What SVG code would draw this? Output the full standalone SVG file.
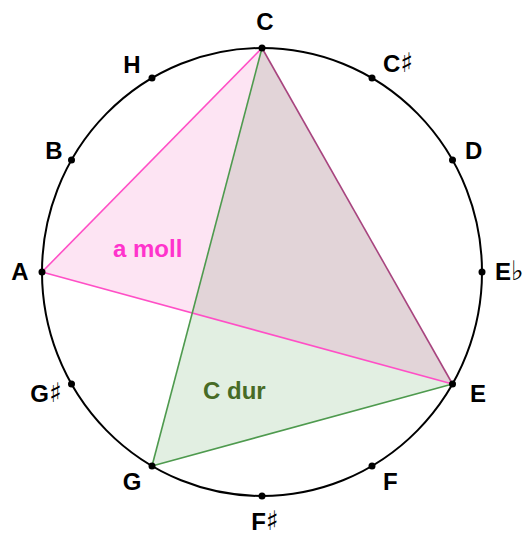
<svg xmlns="http://www.w3.org/2000/svg" width="530" height="535" viewBox="0 0 530 535">
<style>
.lbl{font-family:"Liberation Sans","DejaVu Sans",sans-serif;font-weight:bold;font-size:24px;fill:#000}
.acc{font-family:"DejaVu Sans",sans-serif;font-weight:bold;font-size:27px;fill:#000}
.dot{fill:#000}
.tri-label{font-family:"Liberation Sans","DejaVu Sans",sans-serif;font-weight:bold;font-size:24px}
</style>
<rect width="530" height="535" fill="#fff"/>
<g id="circle">
<ellipse cx="262" cy="272" rx="220" ry="224" fill="none" stroke="#000" stroke-width="2"/>
</g>
<g id="triangles">
<polygon id="a-moll" points="42,272 262,48 452.5,384" fill="#fde4f3"/>
<polygon id="c-dur" points="262,48 452.5,384 152,466" fill="#e2efe2"/>
<polygon id="overlap" points="262,48 192.3,313 452.5,384" fill="#e2d4d8"/>
</g>
<g id="connectors" fill="none" stroke-width="1.6">
<line x1="42" y1="272" x2="262" y2="48" stroke="#ff4fc6"/>
<line x1="42" y1="272" x2="452.5" y2="384" stroke="#ff4fc6"/>
<line x1="262" y1="48" x2="152" y2="466" stroke="#4e9a4e"/>
<line x1="152" y1="466" x2="452.5" y2="384" stroke="#4e9a4e"/>
<line x1="262" y1="48" x2="452.5" y2="384" stroke="#a8457f"/>
</g>
<g id="node-C"><circle class="dot" cx="262" cy="48" r="3.5"/><text class="lbl" x="265" y="30" text-anchor="middle">C</text></g>
<g id="node-Csharp"><circle class="dot" cx="372" cy="78" r="3.5"/><text class="lbl" x="383" y="72">C<tspan class="acc">♯</tspan></text></g>
<g id="node-D"><circle class="dot" cx="452.5" cy="160" r="3.5"/><text class="lbl" x="465" y="159">D</text></g>
<g id="node-Eb"><circle class="dot" cx="482" cy="272" r="3.5"/><text class="lbl" x="495" y="280">E<tspan class="acc">♭</tspan></text></g>
<g id="node-E"><circle class="dot" cx="452.5" cy="384" r="3.5"/><text class="lbl" x="470" y="402">E</text></g>
<g id="node-F"><circle class="dot" cx="372" cy="466" r="3.5"/><text class="lbl" x="383" y="490">F</text></g>
<g id="node-Fsharp"><circle class="dot" cx="262" cy="496" r="3.5"/><text class="lbl" x="265" y="530" text-anchor="middle">F<tspan class="acc">♯</tspan></text></g>
<g id="node-G"><circle class="dot" cx="152" cy="466" r="3.5"/><text class="lbl" x="132" y="490" text-anchor="middle">G</text></g>
<g id="node-Gsharp"><circle class="dot" cx="71.5" cy="384" r="3.5"/><text class="lbl" x="62" y="402" text-anchor="end">G<tspan class="acc">♯</tspan></text></g>
<g id="node-A"><circle class="dot" cx="42" cy="272" r="3.5"/><text class="lbl" x="20" y="280" text-anchor="middle">A</text></g>
<g id="node-B"><circle class="dot" cx="71.5" cy="160" r="3.5"/><text class="lbl" x="54" y="159" text-anchor="middle">B</text></g>
<g id="node-H"><circle class="dot" cx="152" cy="78" r="3.5"/><text class="lbl" x="132" y="73" text-anchor="middle">H</text></g>
<g id="label-a-moll"><text class="tri-label" x="113" y="257" fill="#ff33cc">a moll</text></g>
<g id="label-c-dur"><text class="tri-label" x="203" y="399" fill="#476b26">C dur</text></g>
</svg>
